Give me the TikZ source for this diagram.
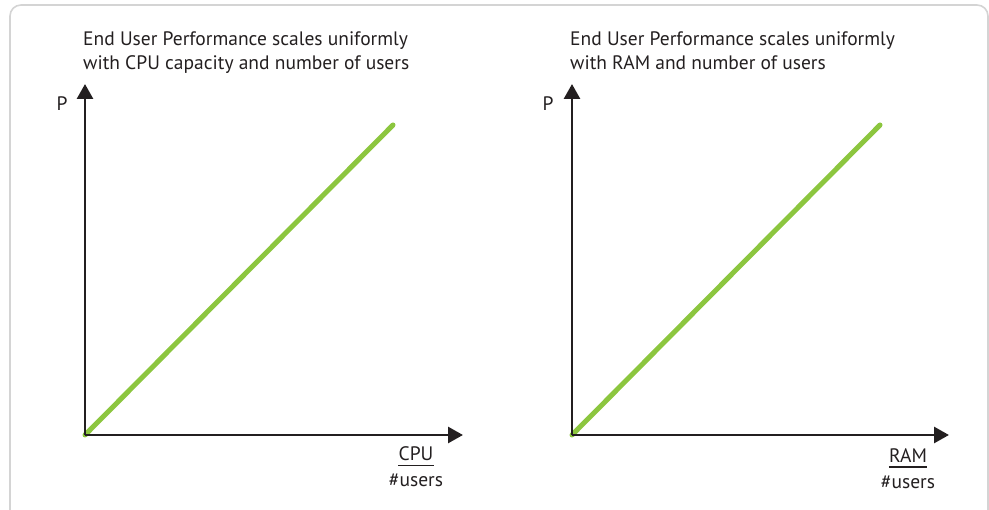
\documentclass[tikz,border=0pt]{standalone}
\usepackage{fontspec}
\setmainfont{PT Sans}
\usetikzlibrary{arrows.meta}
\definecolor{inkdark}{HTML}{231F20}
\definecolor{linegreen}{HTML}{8CC63F}
\definecolor{framegray}{HTML}{D4D4D4}
\tikzset{
  axis/.style={draw=inkdark, line width=2.8pt, -{Triangle[length=15pt,width=16pt]}},
  trend/.style={draw=linegreen, line width=5pt, line cap=round},
  title/.style={anchor=north west, align=left, text=inkdark, font=\fontsize{19.5}{24}\selectfont, inner sep=0pt},
  axlabel/.style={text=inkdark, font=\fontsize{19.5}{22}\selectfont, inner sep=0pt},
  unitname/.style={text=inkdark, font=\fontsize{19.5}{22}\selectfont, inner sep=0pt, anchor=base},
  unitbar/.style={draw=inkdark, line width=1.8pt},
}
\begin{document}
\begin{tikzpicture}[x=1pt, y=-1pt]
\useasboundingbox (0,0) rectangle (989,510);
\begin{scope}
  \clip (0,0) rectangle (989,510);
  \draw[framegray, line width=1.6pt, rounded corners=11pt] (10,5) rectangle (988,530);
\end{scope}

% left chart: CPU
\coordinate (o1) at (85,435);
\coordinate (y1) at (85,84);
\coordinate (x1) at (463,435);
\coordinate (g1) at (393,125);
\draw[trend] (o1) -- (g1);
\draw[axis] (o1) -- (y1);
\draw[axis] (o1) -- (x1);
\node[title] (t1) at (83,31) {End User Performance scales uniformly\\with CPU capacity and number of users};
\node[axlabel] (p1) at (62,104) {P};
\node[unitname] (c1) at (416,461) {CPU};
\draw[unitbar] ([yshift=-4pt]c1.south west) -- ([yshift=-4pt]c1.south east);
\node[unitname] (n1) at (416,487) {\#users};

% right chart: RAM
\coordinate (o2) at (572,435);
\coordinate (y2) at (572,84);
\coordinate (x2) at (949,435);
\coordinate (g2) at (880,125);
\draw[trend] (o2) -- (g2);
\draw[axis] (o2) -- (y2);
\draw[axis] (o2) -- (x2);
\node[title] (t2) at (570,31) {End User Performance scales uniformly\\with RAM and number of users};
\node[axlabel] (p2) at (548,104) {P};
\node[unitname] (c2) at (908,463) {RAM};
\draw[unitbar] ([yshift=-4pt]c2.south west) -- ([yshift=-4pt]c2.south east);
\node[unitname] (n2) at (908,489) {\#users};
\end{tikzpicture}
\end{document}
